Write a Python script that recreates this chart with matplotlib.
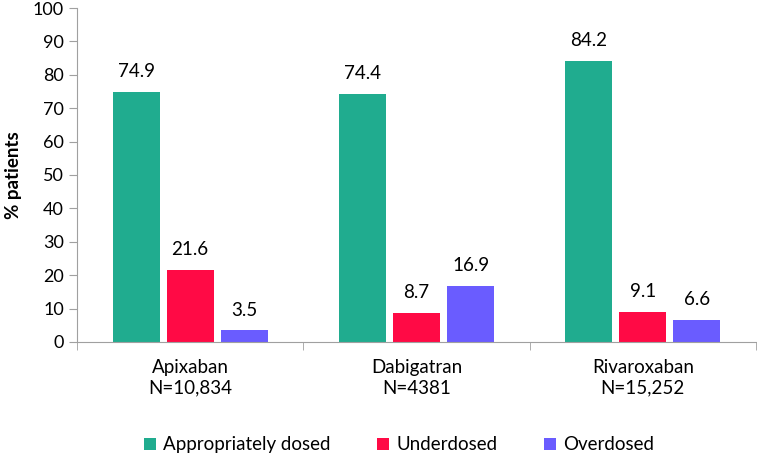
import matplotlib.pyplot as plt
import numpy as np

# data
drugs = ["Apixaban\nN=10,834", "Dabigatran\nN=4381", "Rivaroxaban\nN=15,252"]
series = ["Appropriately dosed", "Underdosed", "Overdosed"]
appropriate = [74.9, 74.4, 84.2]
underdosed = [21.6, 8.7, 9.1]
overdosed = [3.5, 16.9, 6.6]
colors = ["#20AC8F", "#FF0A45", "#6A5CFF"]

plt.rcParams['font.family'] = ['Lato', 'DejaVu Sans']

fig = plt.figure(figsize=(7.57, 4.55), dpi=100)
ax = fig.add_axes([0.1017, 0.2484, 0.8970, 0.734])

x = np.arange(len(drugs))
width = 0.208
step = 0.239
values = [appropriate, underdosed, overdosed]
for i, (name, vals, col) in enumerate(zip(series, values, colors)):
    bars = ax.bar(x + (i - 1) * step, vals, width, color=col, label=name)
    for b, v in zip(bars, vals):
        ax.text(b.get_x() + b.get_width() / 2, v + 3.5, f"{v:.1f}",
                ha="center", va="bottom", fontsize=13.5)

ax.set_xlim(-0.5, 2.5)
ax.set_ylim(0, 100)
ax.set_yticks(range(0, 101, 10))
ax.set_xticks(x)
ax.set_xticklabels(drugs, fontsize=13.5, linespacing=1.3)
ax.set_xticks([-0.5, 0.5, 1.5, 2.5], minor=True)
ax.tick_params(axis="x", which="major", length=0, pad=12)
ax.tick_params(axis="x", which="minor", length=6, color="#A0A0A0")
ax.tick_params(axis="y", length=6, color="#A0A0A0", labelsize=13)
ax.set_ylabel("% patients", fontsize=13.5, fontweight="bold", labelpad=8)

for s in ["top", "right"]:
    ax.spines[s].set_visible(False)
for s in ["left", "bottom"]:
    ax.spines[s].set_color("#A0A0A0")

fig.legend(loc="center", bbox_to_anchor=(0.527, 0.022), ncol=3,
           frameon=False, fontsize=13.5, handlelength=0.65, handleheight=0.65,
           handletextpad=0.35, columnspacing=2.5)

plt.savefig("out.png", dpi=100)
plt.close()
